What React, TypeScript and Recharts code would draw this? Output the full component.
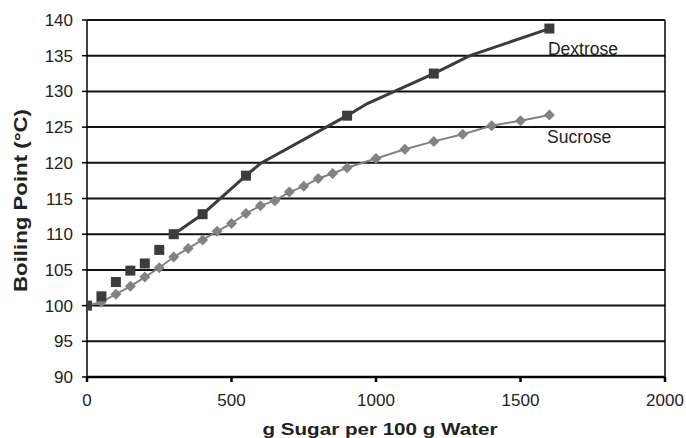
import React from 'react';
import {
  ComposedChart,
  Line,
  XAxis,
  YAxis,
  CartesianGrid,
  ReferenceLine,
  ReferenceDot,
} from 'recharts';

const dextroseX = [0, 50, 100, 150, 200, 250, 300, 400, 550, 900, 1200, 1600];
const dextroseY = [100, 101.3, 103.3, 104.9, 105.9, 107.8, 110, 112.8, 118.2, 126.6, 132.5, 138.8];
const dextroseCurveX = [300, 400, 550, 600, 900, 970, 1200, 1325, 1600];
const dextroseCurveY = [110, 112.8, 118.2, 119.9, 126.6, 128.3, 132.5, 135, 138.8];
const sucroseX = [0, 50, 100, 150, 200, 250, 300, 350, 400, 450, 500, 550, 600, 650, 700, 750, 800, 850, 900, 1000, 1100, 1200, 1300, 1400, 1500, 1600];
const sucroseY = [100, 100.5, 101.6, 102.7, 104, 105.3, 106.8, 108, 109.2, 110.4, 111.5, 112.9, 114, 114.7, 115.9, 116.7, 117.8, 118.5, 119.3, 120.6, 121.9, 123, 124, 125.2, 125.9, 126.7];
const xTicks = [0, 500, 1000, 1500, 2000];
const yTicks = [90, 95, 100, 105, 110, 115, 120, 125, 130, 135, 140];

const dextroseData = dextroseX.map((x, i) => ({ x, y: dextroseY[i] }));
const dextroseCurve = dextroseCurveX.map((x, i) => ({ x, y: dextroseCurveY[i] }));
const sucroseData = sucroseX.map((x, i) => ({ x, y: sucroseY[i] }));

const DEX = '#3c3c3c';
const SUC = '#828282';
const FONT = 'Liberation Sans, Arial, sans-serif';

const Square = (p: any) => {
  if (p.cx == null || p.cy == null) return <g key={p.index} />;
  return <rect key={p.index} x={p.cx - 5} y={p.cy - 5} width={10} height={10} fill={DEX} />;
};

const Diamond = (p: any) => {
  if (p.cx == null || p.cy == null) return <g key={p.index} />;
  const r = 5.5;
  return (
    <polygon
      key={p.index}
      points={`${p.cx},${p.cy - r} ${p.cx + r},${p.cy} ${p.cx},${p.cy + r} ${p.cx - r},${p.cy}`}
      fill={SUC}
    />
  );
};

const YTitle = (props: any) => {
  const vb = props.viewBox || { x: 0, y: 20, width: 87, height: 357 };
  const cx = vb.x + 27;
  const cy = vb.y + vb.height / 2 + 2;
  return (
    <text
      x={cx}
      y={cy}
      transform={`rotate(-90 ${cx} ${cy})`}
      textAnchor="middle"
      fontFamily={FONT}
      fontWeight="bold"
      fontSize={17.5}
      fill="#222"
      textLength={183}
      lengthAdjust="spacingAndGlyphs"
    >
      Boiling Point (°C)
    </text>
  );
};

const XTitle = (props: any) => {
  const vb = props.viewBox || { x: 87, y: 377, width: 578, height: 61 };
  const cx = vb.x + vb.width / 2 + 4;
  const cy = vb.y + 58;
  return (
    <text
      x={cx}
      y={cy}
      textAnchor="middle"
      fontFamily={FONT}
      fontWeight="bold"
      fontSize={17}
      fill="#222"
      textLength={235}
      lengthAdjust="spacingAndGlyphs"
    >
      g Sugar per 100 g Water
    </text>
  );
};

export default function App() {
  return (
    <div style={{ position: 'absolute', left: 0, top: 0, background: '#fff' }}>
      <ComposedChart
        width={686}
        height={438}
        margin={{ top: 20, right: 21, bottom: 0, left: 0 }}
        style={{ fontFamily: FONT }}
      >
        <CartesianGrid vertical={false} stroke="#111" strokeWidth={2} />
        <XAxis
          type="number"
          dataKey="x"
          domain={[0, 2000]}
          ticks={xTicks}
          height={61}
          stroke="#000"
          strokeWidth={2.5}
          tickSize={5}
          tickMargin={12}
          tick={{ fill: '#222', fontSize: 17, fontFamily: FONT }}
          allowDataOverflow
          label={{ content: XTitle }}
        />
        <YAxis
          type="number"
          dataKey="y"
          domain={[90, 140]}
          ticks={yTicks}
          width={87}
          stroke="#000"
          strokeWidth={1.5}
          tickSize={5}
          tickMargin={9}
          tick={{ fill: '#222', fontSize: 17, fontFamily: FONT }}
          allowDataOverflow
          label={{ content: YTitle }}
        />
        <ReferenceLine x={2000} stroke="#000" strokeWidth={1.5} />
        <Line
          data={sucroseData}
          dataKey="y"
          stroke={SUC}
          strokeWidth={2}
          dot={Diamond}
          activeDot={false}
          isAnimationActive={false}
          legendType="none"
        />
        <Line
          data={dextroseCurve}
          dataKey="y"
          stroke={DEX}
          strokeWidth={3}
          dot={false}
          activeDot={false}
          isAnimationActive={false}
          legendType="none"
        />
        <Line
          data={dextroseData}
          dataKey="y"
          stroke="none"
          dot={Square}
          activeDot={false}
          isAnimationActive={false}
          legendType="none"
        />
        <ReferenceDot
          x={1595}
          y={135.9}
          r={0}
          label={{ value: 'Dextrose', position: 'right', offset: 0, fill: '#222', fontSize: 17.5, fontFamily: FONT }}
        />
        <ReferenceDot
          x={1592}
          y={123.7}
          r={0}
          label={{ value: 'Sucrose', position: 'right', offset: 0, fill: '#222', fontSize: 17.5, fontFamily: FONT }}
        />
      </ComposedChart>
    </div>
  );
}
